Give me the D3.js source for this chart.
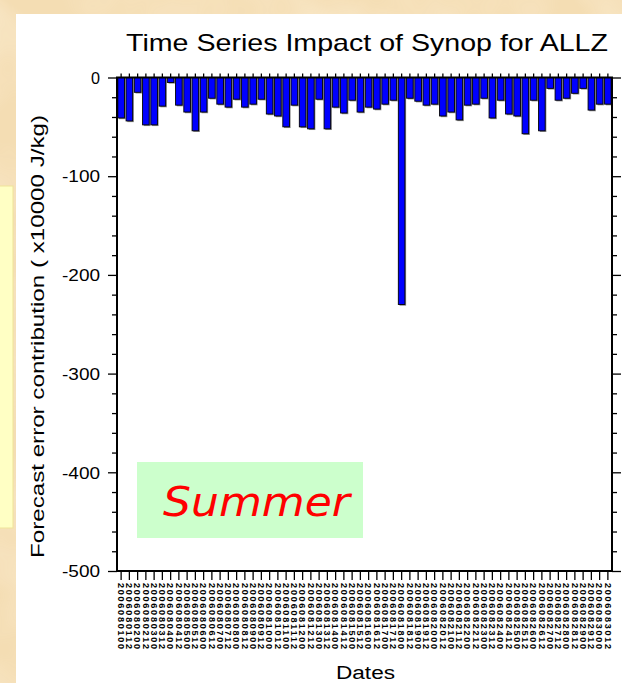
<!DOCTYPE html>
<html>
<head>
<meta charset="utf-8">
<script src="https://cdn.jsdelivr.net/npm/d3@7"></script>
<style>
  html, body { margin: 0; padding: 0; background: #f6e3bf; }
  svg { display: block; }
  text { font-family: "Liberation Sans", Arial, Helvetica, sans-serif; }
</style>
</head>
<body>
<script>
// 12-hourly analysis times (YYYYMMDDHH)
const dates = [
  "2006080100","2006080112","2006080200","2006080212","2006080300","2006080312",
  "2006080400","2006080412","2006080500","2006080512","2006080600","2006080612",
  "2006080700","2006080712","2006080800","2006080812","2006080900","2006080912",
  "2006081000","2006081012","2006081100","2006081112","2006081200","2006081212",
  "2006081300","2006081312","2006081400","2006081412","2006081500","2006081512",
  "2006081600","2006081612","2006081700","2006081712","2006081800","2006081812",
  "2006081900","2006081912","2006082000","2006082012","2006082100","2006082112",
  "2006082200","2006082212","2006082300","2006082312","2006082400","2006082412",
  "2006082500","2006082512","2006082600","2006082612","2006082700","2006082712",
  "2006082800","2006082812","2006082900","2006082912","2006083000","2006083012"
];

// Synop forecast error contribution (x10000 J/kg)
const impact = [
  -41, -44, -15, -48, -48, -29, -5, -28, -35, -54,
  -35, -21, -27, -30, -22, -30, -27, -22, -37, -39,
  -50, -28, -50, -52, -22, -52, -30, -36, -23, -35,
  -30, -32, -27, -23, -230, -21, -24, -28, -27, -39,
  -35, -43, -28, -27, -21, -41, -23, -37, -39, -57,
  -23, -54, -11, -23, -21, -16, -11, -33, -27, -27
];

const yMajorTicks = [0, -100, -200, -300, -400, -500];
const yMajorLabels = ["0", "-100", "-200", "-300", "-400", "-500"];
const yMinorTicks = [-20, -40, -60, -80, -120, -140, -160, -180, -220, -240, -260, -280,
                     -320, -340, -360, -380, -420, -440, -460, -480];

const titleText = "Time Series Impact of Synop for ALLZ";
const yTitle = "Forecast error contribution ( x10000 J/kg)";
const xTitle = "Dates";
const seasonText = "Summer";

const W = 622, H = 683;
const plot = { left: 117, right: 612, top: 77.5, bottom: 571 };

const svg = d3.select("body").append("svg")
  .attr("width", W).attr("height", H);

// parchment backdrop
const defs = svg.append("defs");
const f = defs.append("filter").attr("id", "paper")
  .attr("x", 0).attr("y", 0).attr("width", "100%").attr("height", "100%");
f.append("feTurbulence").attr("type", "fractalNoise")
  .attr("baseFrequency", 0.012).attr("numOctaves", 3).attr("seed", 7).attr("result", "n");
f.append("feColorMatrix").attr("in", "n").attr("type", "matrix")
  .attr("values", "0 0 0 0 0.99  0 0 0 0 0.90  0 0 0 0 0.74  0 0 0 -1.6 1.05")
  .attr("result", "c");
f.append("feComposite").attr("in", "c").attr("in2", "SourceGraphic").attr("operator", "in");

svg.append("rect").attr("width", W).attr("height", H).attr("fill", "#f4ddb3");
svg.append("rect").attr("width", W).attr("height", H).attr("fill", "#fff").attr("opacity", 0.5)
  .attr("filter", "url(#paper)");

// pale yellow side strip
svg.append("rect").attr("x", -2).attr("y", 186).attr("width", 15).attr("height", 342)
  .attr("fill", "#ffffc4").attr("stroke", "#efe39a").attr("stroke-width", 1);

// white panel
svg.append("rect").attr("x", 16).attr("y", 14).attr("width", W - 16).attr("height", H - 14)
  .attr("fill", "#ffffff");

// scales
const x = d3.scaleBand().domain(dates).range([plot.left, plot.right])
  .paddingInner(0.2).paddingOuter(0.1);
const y = d3.scaleLinear().domain([-500, 0]).range([plot.bottom, plot.top]);

// bars: grey drop shadow then blue fill
const bars = svg.append("g");
bars.selectAll("rect.shadow").data(impact).join("rect")
  .attr("class", "shadow")
  .attr("x", (d, i) => x(dates[i]) + 1.2)
  .attr("y", y(0))
  .attr("width", x.bandwidth())
  .attr("height", d => y(d) - y(0) + 1.2)
  .attr("fill", "#8c8c8c");
bars.selectAll("rect.bar").data(impact).join("rect")
  .attr("class", "bar")
  .attr("x", (d, i) => x(dates[i]))
  .attr("y", y(0))
  .attr("width", x.bandwidth())
  .attr("height", d => y(d) - y(0))
  .attr("fill", "#0000ff")
  .attr("stroke", "#000").attr("stroke-width", 0.9);

// season label box
svg.append("rect").attr("x", 137).attr("y", 462).attr("width", 226).attr("height", 76)
  .attr("fill", "#ccffcc");
svg.append("text").attr("x", 163).attr("y", 516)
  .style("font-family", "'DejaVu Sans', sans-serif")
  .attr("font-style", "italic").attr("font-size", 40)
  .attr("textLength", 187).attr("lengthAdjust", "spacingAndGlyphs")
  .attr("fill", "#ff0000").text(seasonText);

// axes
const tickStyle = g => {
  g.select(".domain").remove();
  g.selectAll("line").attr("stroke", "#000").attr("stroke-width", 1.3);
};

// left axis: majors with labels, minors unlabeled
const yLeft = svg.append("g").attr("transform", `translate(${plot.left},0)`)
  .call(d3.axisLeft(y).tickValues(yMajorTicks).tickSize(9).tickPadding(8)
    .tickFormat((d, i) => yMajorLabels[i]))
  .call(tickStyle);
yLeft.selectAll("text").attr("font-size", 16).attr("fill", "#000")
  .attr("textLength", (d, i) => yMajorLabels[i].length === 1 ? 9 : 38)
  .attr("lengthAdjust", "spacingAndGlyphs")
  .attr("dy", "0.36em");
svg.append("g").attr("transform", `translate(${plot.left},0)`)
  .call(d3.axisLeft(y).tickValues(yMinorTicks).tickSize(5).tickFormat(""))
  .call(tickStyle);

// right axis mirrors left
svg.append("g").attr("transform", `translate(${plot.right},0)`)
  .call(d3.axisRight(y).tickValues(yMajorTicks).tickSize(9).tickFormat(""))
  .call(tickStyle);
svg.append("g").attr("transform", `translate(${plot.right},0)`)
  .call(d3.axisRight(y).tickValues(yMinorTicks).tickSize(5).tickFormat(""))
  .call(tickStyle);

// bottom axis: one tick per analysis time, labels run downward
const xBottom = svg.append("g").attr("transform", `translate(0,${plot.bottom})`)
  .call(d3.axisBottom(x).tickSize(9).tickPadding(2))
  .call(tickStyle);
xBottom.selectAll("text")
  .attr("font-size", 9)
  .attr("font-weight", "bold")
  .attr("textLength", 66).attr("lengthAdjust", "spacing")
  .attr("fill", "#000")
  .attr("text-anchor", "start")
  .attr("dy", null)
  .attr("y", 0)
  .attr("transform", "translate(-3.3,12) rotate(90)");

// top axis mirrors bottom
svg.append("g").attr("transform", `translate(0,${plot.top})`)
  .call(d3.axisTop(x).tickSize(4).tickFormat(""))
  .call(tickStyle);

// frame
svg.append("rect")
  .attr("x", plot.left).attr("y", plot.top)
  .attr("width", plot.right - plot.left).attr("height", plot.bottom - plot.top)
  .attr("fill", "none").attr("stroke", "#000").attr("stroke-width", 2);

// titles
svg.append("text").attr("x", 126).attr("y", 51)
  .attr("font-size", 24).attr("textLength", 482).attr("lengthAdjust", "spacingAndGlyphs")
  .attr("fill", "#000").text(titleText);

svg.append("text")
  .attr("transform", "translate(44,558) rotate(-90)")
  .attr("font-size", 18).attr("textLength", 443).attr("lengthAdjust", "spacingAndGlyphs")
  .attr("fill", "#000").text(yTitle);

svg.append("text").attr("x", 336).attr("y", 679)
  .attr("font-size", 18).attr("textLength", 59).attr("lengthAdjust", "spacingAndGlyphs")
  .attr("fill", "#000").text(xTitle);
</script>
</body>
</html>
